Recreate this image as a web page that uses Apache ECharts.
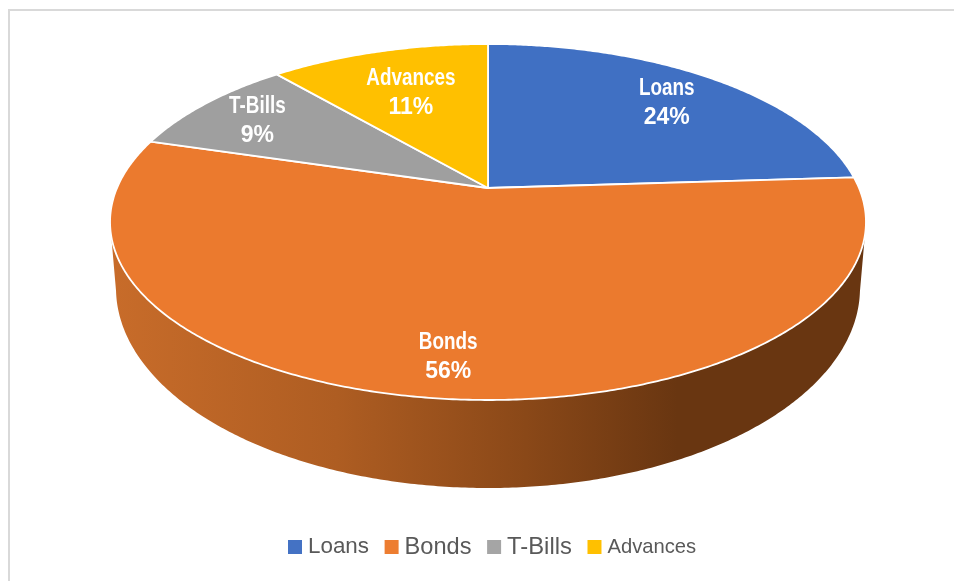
<!DOCTYPE html>
<html><head><meta charset="utf-8">
<style>html,body{margin:0;padding:0;background:#fff}#c{width:954px;height:581px}</style>
<script src="https://cdn.jsdelivr.net/npm/echarts@6/dist/echarts.min.js"></script>
</head><body><div id="c"></div>
<script>
const categories = ['Loans', 'Bonds', 'T-Bills', 'Advances'];
const shares = [24, 55.6, 9.1, 11.3];
const legendColors = ['#4472c4', '#ed7d31', '#a5a5a5', '#ffc000'];
const topColors = ['#4070c3', '#eb7a2e', '#9f9f9f', '#ffc000'];
const labelRadius = [0.78, 0.84, 0.78, 0.66];
const labelShiftX = [0, 2, -6, -1];
const labelShiftY = [3, -1, 0, 0];
const legendSizes = [22.4, 23.6, 23.8, 20.2];

// perspective view of the pie disc
const CX = 488, APEX = 188, KX = 371, A = -135.6, C = 0.191;
const TOP = {cy: 222, rx: 378, ry: 178};
const BOTTOM = {cy: 288, rx: 372, ry: 200};
const total = shares.reduce((a, b) => a + b, 0);
const project = (deg, r) => {
  const t = deg * Math.PI / 180, u = r * Math.sin(t), v = r * Math.cos(t), d = 1 + C * v;
  return [CX + KX * u / d, (A * v + APEX) / d];
};
const startOf = i => shares.slice(0, i).reduce((a, b) => a + b, 0) / total * 360;

function renderSlice(params, api) {
  const i = params.seriesIndex;
  const a0 = startOf(i), a1 = a0 + api.value(0) / total * 360;
  const rim = [];
  for (let a = a0; a < a1; a += 0.5) rim.push(project(a, 1));
  rim.push(project(a1, 1));
  const children = [];
  // visible side wall: the rim below the disc's widest line
  const upper = [], lower = [];
  rim.forEach(p => {
    if (p[1] < TOP.cy) return;
    const s = (p[0] - CX) / TOP.rx;
    const c = Math.sqrt(Math.max(0, 1 - s * s));
    upper.push(p);
    lower.push([CX + BOTTOM.rx * s, BOTTOM.cy + BOTTOM.ry * c]);
  });
  if (upper.length) {
    children.push({
      type: 'polygon', shape: {points: upper.concat(lower.reverse())},
      style: {fill: new echarts.graphic.LinearGradient(0, 0, 1, 0, [
        {offset: 0, color: '#c86c2a'}, {offset: 0.3, color: '#ae5d22'},
        {offset: 0.55, color: '#8a4818'}, {offset: 0.75, color: '#693611'},
        {offset: 1, color: '#693611'}])}
    });
  }
  children.push({
    type: 'polygon', shape: {points: [project(0, 0)].concat(rim)},
    style: {fill: topColors[i], stroke: '#fff', lineWidth: 1.8, lineJoin: 'round'}
  });
  const m = (a0 + a1) / 2, lp = project(m, labelRadius[i]);
  const lx = lp[0] + labelShiftX[i], ly = lp[1] + labelShiftY[i];
  const font = 'bold 23px "Liberation Sans",Arial,sans-serif';
  children.push({
    type: 'text', x: lx, y: ly - 14.5, scaleX: 0.82,
    style: {text: categories[i], fill: '#fff', font, align: 'center', verticalAlign: 'middle'}
  }, {
    type: 'text', x: lx, y: ly + 14.5,
    style: {text: Math.round(api.value(0)) + '%', fill: '#fff', font, align: 'center', verticalAlign: 'middle'}
  });
  return {type: 'group', children};
}

const chart = echarts.init(document.getElementById('c'), null, {renderer: 'canvas'});
chart.setOption({
  animation: false,
  backgroundColor: '#fff',
  graphic: [{type: 'rect', shape: {x: 9, y: 10, width: 960, height: 580},
    style: {fill: 'none', stroke: '#d9d9d9', lineWidth: 2}, silent: true}],
  legend: {
    left: 283, top: 530, itemWidth: 14, itemHeight: 14, itemGap: 15.6, icon: 'rect',
    textStyle: {color: '#595959', fontFamily: '"Liberation Sans",Arial,sans-serif', padding: [0, 0, 0, 1]},
    data: categories.map((n, i) => ({name: n, textStyle: {fontSize: legendSizes[i]}}))
  },
  series: categories.map((n, i) => ({
    type: 'custom', name: n, coordinateSystem: 'none', silent: true,
    itemStyle: {color: legendColors[i]}, renderItem: renderSlice, data: [[shares[i]]], encode: {value: 0}
  }))
});
</script></body></html>
